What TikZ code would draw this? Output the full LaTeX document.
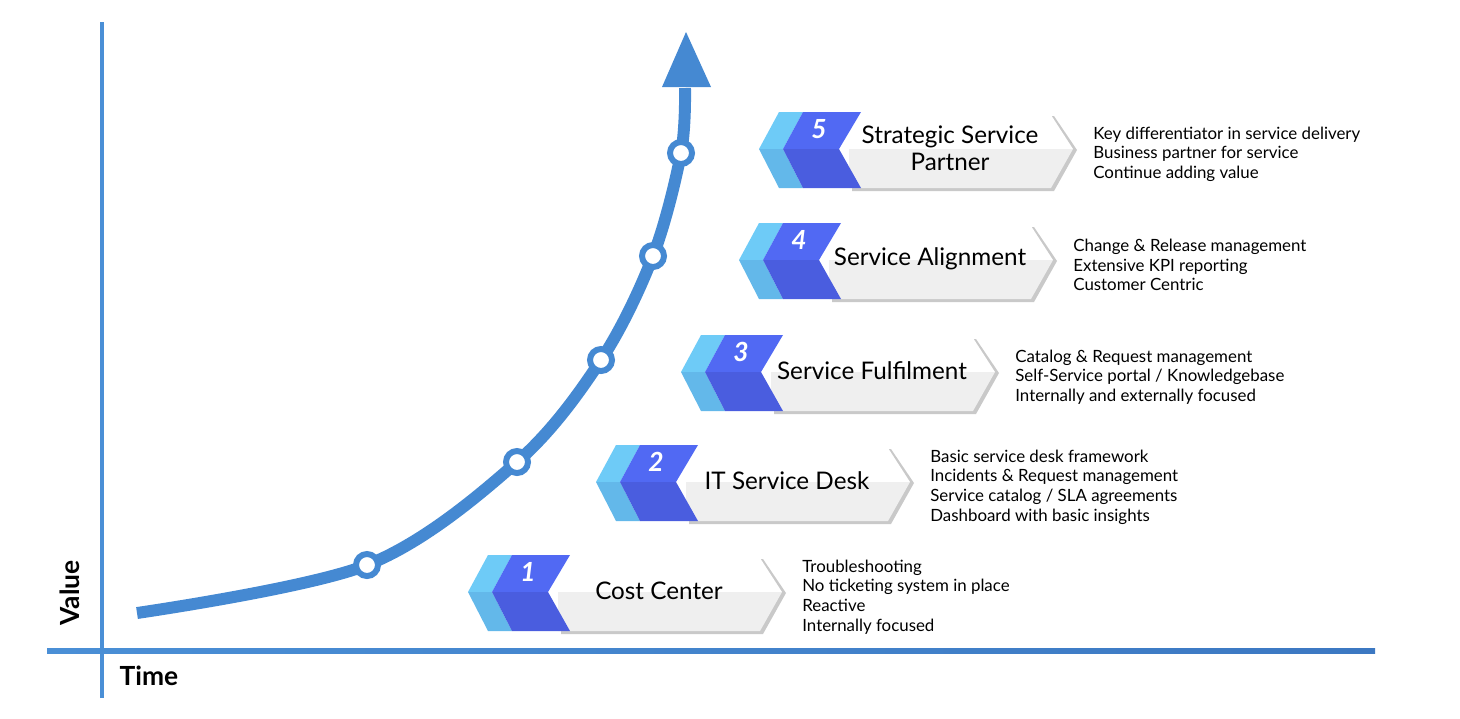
\documentclass[tikz,border=0pt]{standalone}
\usepackage{fontspec}
\setmainfont{Lato}
\usetikzlibrary{calc}

\definecolor{axisblue}{HTML}{4A8FD6}
\definecolor{axisdark}{HTML}{3C78C2}
\definecolor{curveblue}{HTML}{4589D2}
\definecolor{lightchev}{HTML}{6ECBF7}
\definecolor{lightchevdark}{HTML}{63B8EA}
\definecolor{bluechev}{HTML}{5169F3}
\definecolor{bluechevdark}{HTML}{4A5DDF}
\definecolor{bodygrey}{HTML}{EFEFEF}
\definecolor{shadowgrey}{HTML}{C9C9C9}

\tikzset{
    stagetitle/.style={font=\fontsize{13.8}{15.5}\selectfont, align=center},
    stagenum/.style={font=\fontsize{15}{17}\selectfont\bfseries\itshape, text=white},
    stagedesc/.style={font=\fontsize{9.6}{11.2}\selectfont, align=left, anchor=west, inner sep=0pt},
    milestone/.style={circle, draw=curveblue, fill=white, line width=3.4pt,
                      minimum size=0.44cm, inner sep=0pt},
    axislabel/.style={font=\fontsize{15}{17}\selectfont\bfseries}
}

\begin{document}
\begin{tikzpicture}[x=0.02cm, y=-0.02cm]
    \useasboundingbox (0,0) rectangle (1460,718);

    % Axes
    \coordinate (O) at (102,651);
    \coordinate (ytop) at (102,22);
    \coordinate (ybot) at (102,698);
    \coordinate (xleft) at (47,651);
    \coordinate (xright) at (1375,651);
    \draw[axisblue, line width=2.8pt] (ybot) -- (ytop);
    \shade[left color=axisblue, right color=axisdark] (47,648.5) rectangle (1375,653.5);

    \node[axislabel, rotate=90] (value) at (70,593) {Value};
    \node[axislabel] (time) at (149,676) {Time};

    % Growth curve
    \coordinate (c0) at (137,613);
    \coordinate (c1) at (367,565);
    \coordinate (c2) at (517,462);
    \coordinate (c3) at (601,360);
    \coordinate (c4) at (653,256);
    \coordinate (c5) at (681,153);
    \coordinate (c6) at (685,88);
    \draw[curveblue, line width=6.8pt] plot[smooth, tension=0.55]
        coordinates {(c0) (c1) (c2) (c3) (c4) (c5) (c6)};

    % Arrow head
    \coordinate (tip) at (686,32);
    \coordinate (hl) at (662,87);
    \coordinate (hr) at (711,87);
    \fill[curveblue] (hl) -- (tip) -- (hr) -- cycle;

    % Milestones on the curve
    \foreach \i in {1,...,5}
        \node[milestone] (m\i) at (c\i) {};

    % Stage banners
    \foreach \n/\bx/\by/\title/\desc in {
        1/468/592/{Cost Center}/{Troubleshooting\\No ticketing system in place\\Reactive\\Internally focused},
        2/596/482/{IT Service Desk}/{Basic service desk framework\\Incidents \& Request management\\Service catalog / SLA agreements\\Dashboard with basic insights},
        3/681/372/{Service Fulfilment}/{Catalog \& Request management\\Self-Service portal / Knowledgebase\\Internally and externally focused},
        4/739/260/{Service Alignment}/{Change \& Release management\\Extensive KPI reporting\\Customer Centric},
        5/759/149/{Strategic Service\\Partner}/{Key differentiator in service delivery\\Business partner for service\\Continue adding value}}
    {
        \coordinate (b\n) at (\bx,\by);
        \begin{scope}[shift={(b\n)}]
            % shadow and body
            \fill[shadowgrey] (93,-33) -- (295,-33) -- (318,1) -- (295,42) -- (93,42) -- cycle;
            \fill[white] (90,-34) -- (292,-34) -- (314,0) -- (90,0) -- cycle;
            \fill[bodygrey] (90,0) -- (314,0) -- (292,39) -- (90,39) -- cycle;
            % light chevron
            \fill[lightchev] (0,0) -- (20,-37) -- (44,-37) -- (24,0) -- cycle;
            \fill[lightchevdark] (0,0) -- (24,0) -- (44,39) -- (20,39) -- cycle;
            % blue chevron
            \fill[bluechev] (24,0) -- (44,-37) -- (102,-37) -- (80,0) -- cycle;
            \fill[bluechevdark] (24,0) -- (80,0) -- (102,39) -- (44,39) -- cycle;
            % texts
            \node[stagenum] (n\n) at (60,-20) {\n};
            \node[stagetitle] (t\n) at (191,-1) {\title};
            \node[stagedesc] (d\n) at (334,5) {\desc};
        \end{scope}
    }
\end{tikzpicture}
\end{document}
